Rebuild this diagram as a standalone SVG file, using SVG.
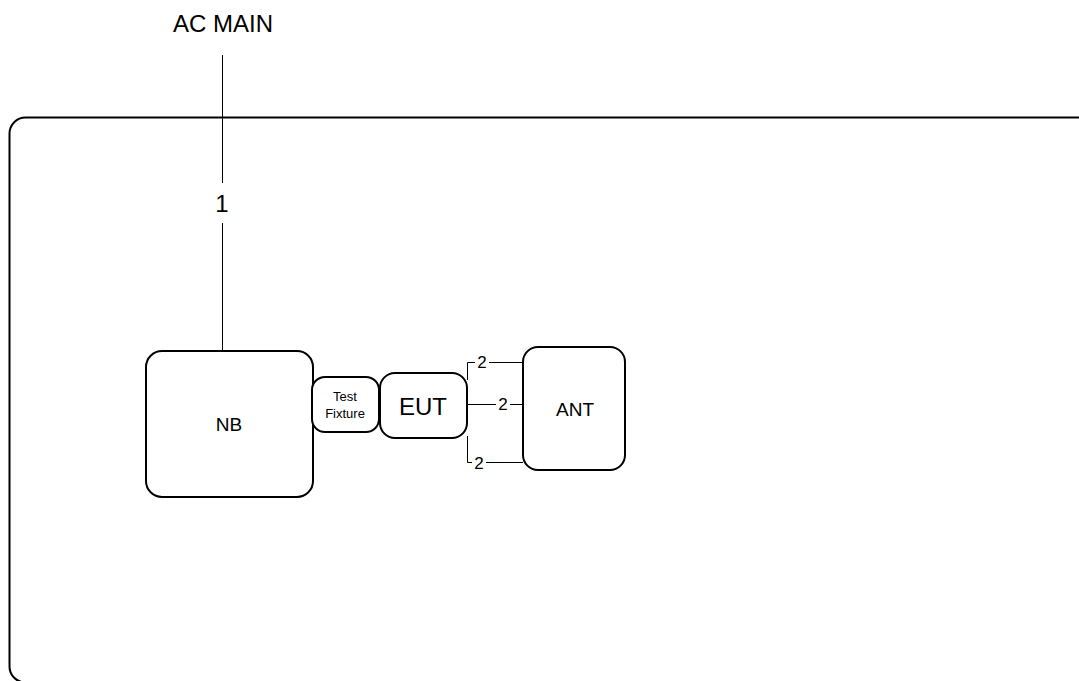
<svg xmlns="http://www.w3.org/2000/svg" width="1079" height="681" viewBox="0 0 1079 681">
<style>
.box{fill:#fff;stroke:#000;stroke-width:2}
.ln{fill:none;stroke:#000;stroke-width:1}
.t{font-family:"Liberation Sans",Arial,sans-serif;fill:#000;text-anchor:middle;dominant-baseline:central}
.lbl{fill:#fff}
</style>
<rect width="1079" height="681" fill="#fff"/>
<g id="frame"><rect class="box" x="9.5" y="117.5" width="1090" height="565" rx="16"/></g>
<g id="connectors">
<path class="ln" d="M222.5 55 V183 M222.5 223 V351"/>
<text class="t" x="222" y="203" font-size="24">1</text>
<path class="ln" d="M467.5 380 V362.5 H523"/>
<path class="ln" d="M467 404.5 H523"/>
<path class="ln" d="M467.5 436 V462.5 H523"/>
<rect class="lbl" x="475" y="354" width="14" height="16"/>
<text class="t" x="482" y="362" font-size="17">2</text>
<rect class="lbl" x="496" y="396" width="14" height="16"/>
<text class="t" x="503" y="404" font-size="17">2</text>
<rect class="lbl" x="472" y="454" width="14" height="16"/>
<text class="t" x="479" y="463" font-size="17">2</text>
</g>
<g id="acmain"><text class="t" x="223" y="23" font-size="24">AC MAIN</text></g>
<g id="nb"><rect class="box" x="146" y="351" width="167" height="146" rx="16"/><text class="t" x="229" y="424" font-size="19">NB</text></g>
<g id="fixture"><rect class="box" x="312" y="377" width="67" height="55" rx="13"/><text class="t" x="345" y="396" font-size="13">Test</text><text class="t" x="345" y="413" font-size="13">Fixture</text></g>
<g id="eut"><rect class="box" x="380" y="373" width="87" height="65" rx="15"/><text class="t" x="423" y="406" font-size="24">EUT</text></g>
<g id="ant"><rect class="box" x="523" y="347" width="102" height="123" rx="15"/><text class="t" x="575" y="409" font-size="19">ANT</text></g>
</svg>
